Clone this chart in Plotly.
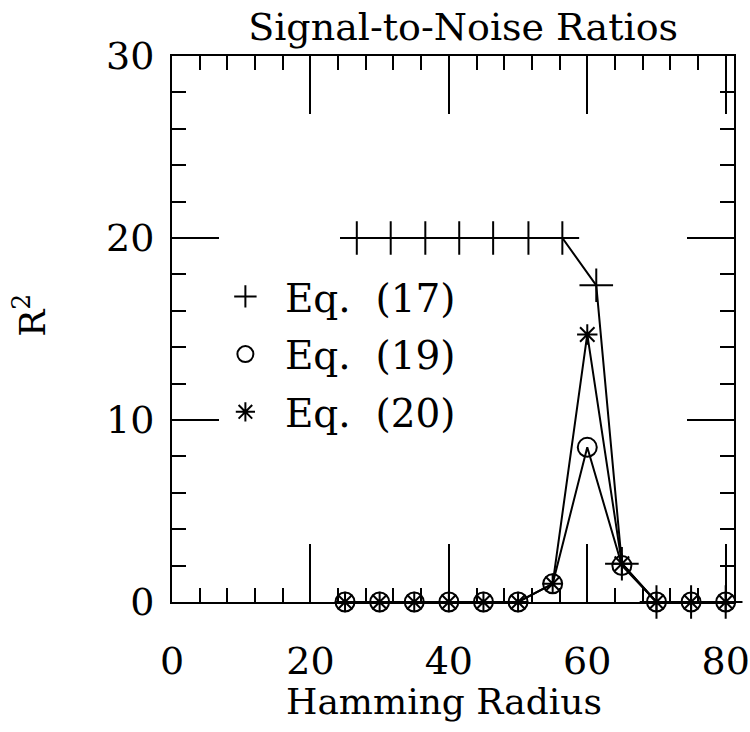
import plotly.graph_objects as go

# ---- data ----
x_eq17 = [26.7, 31.6, 36.6, 41.5, 46.4, 51.5, 56.4, 61.3, 65, 70, 75, 80]
y_eq17 = [20, 20, 20, 20, 20, 20, 20, 17.4, 2.1, 0, 0, 0]

x_eq19 = [25, 30, 35, 40, 45, 50, 55, 60, 65, 70, 75, 80]
y_eq19 = [0, 0, 0, 0, 0, 0, 1.0, 8.5, 2.0, 0, 0, 0]

x_eq20 = [25, 30, 35, 40, 45, 50, 55, 60, 65, 70, 75, 80]
y_eq20 = [0, 0, 0, 0, 0, 0, 1.0, 14.7, 2.1, 0, 0, 0]

x_ticks = [0, 20, 40, 60, 80]
x_tick_text = ["0", "20", "40", "60", "80"]
y_ticks = [0, 10, 20, 30]

FONT = "DejaVu Serif"
BLACK = "black"

fig = go.Figure()

line = dict(color=BLACK, width=2)

fig.add_trace(go.Scatter(x=x_eq17, y=y_eq17, mode="lines+markers", line=line,
                         marker=dict(symbol="cross-thin-open", size=24,
                                     line=dict(color=BLACK, width=2)),
                         showlegend=False, cliponaxis=False))
fig.add_trace(go.Scatter(x=x_eq19, y=y_eq19, mode="lines+markers", line=line,
                         marker=dict(symbol="circle-open", size=19, color=BLACK,
                                     line=dict(color=BLACK, width=2)),
                         showlegend=False, cliponaxis=False))
fig.add_trace(go.Scatter(x=x_eq20, y=y_eq20, mode="lines+markers", line=line,
                         marker=dict(symbol="asterisk-open", size=17,
                                     line=dict(color=BLACK, width=2)),
                         showlegend=False, cliponaxis=False))

# legend entries (symbols only)
leg = [("cross-thin-open", 24, "\u2002Eq.\u00a0\u00a0(17)"),
       ("circle-open", 17, "\u2002Eq.\u00a0\u00a0(19)"),
       ("asterisk-open", 20, "\u2002Eq.\u00a0\u00a0(20)")]
for i, (sym, sz, name) in enumerate(leg):
    fig.add_trace(go.Scatter(x=[None], y=[None], mode="markers", name=name,
                             legendgroup=str(i),
                             marker=dict(symbol=sym, size=sz, color=BLACK,
                                         line=dict(color=BLACK, width=2))))

axis_common = dict(showline=True, linecolor=BLACK, linewidth=2, mirror="ticks",
                   ticks="inside", tickwidth=2, tickcolor=BLACK, showgrid=False,
                   zeroline=False, automargin=False,
                   tickfont=dict(family=FONT, size=38, color=BLACK))

fig.update_xaxes(range=[0, 81.2], tickvals=x_ticks, ticktext=x_tick_text,
                 ticklen=58, ticklabeloverflow="allow",
                 minor=dict(ticks="inside", dtick=4, tick0=0, ticklen=14,
                            tickwidth=2, tickcolor=BLACK, showgrid=False),
                 ticklabelstandoff=24, **axis_common)
fig.update_yaxes(range=[0, 30], tickvals=y_ticks, ticklen=47,
                 minor=dict(ticks="inside", dtick=2, tick0=0, ticklen=14,
                            tickwidth=2, tickcolor=BLACK, showgrid=False),
                 ticklabelstandoff=8, **axis_common)

fig.update_layout(
    template="none",
    width=750, height=732,
    margin=dict(l=172, r=16, t=56, b=130, autoexpand=False),
    paper_bgcolor="white", plot_bgcolor="white",
    font=dict(family=FONT, color=BLACK),
    title=dict(text="Signal-to-Noise Ratios", x=0.518, xref="paper",
               xanchor="center", y=1 - 27 / 732, yanchor="middle",
               font=dict(family=FONT, size=38, color=BLACK)),
    legend=dict(x=0.095, y=0.618, xanchor="left", yanchor="top",
                bgcolor="rgba(0,0,0,0)", borderwidth=0,
                font=dict(family=FONT, size=39, color=BLACK),
                traceorder="grouped", tracegroupgap=4),
    annotations=[
        dict(text="Hamming Radius", xref="paper", yref="paper", x=0.484,
             y=-0.183, xanchor="center", yanchor="middle", showarrow=False,
             font=dict(family=FONT, size=36, color=BLACK)),
        dict(text="R<sup>2</sup>", xref="paper", yref="paper", x=-0.2527,
             y=0.526, xanchor="center", yanchor="middle", showarrow=False,
             textangle=-90, font=dict(family=FONT, size=36, color=BLACK)),
    ],
)

fig.write_html("out.html",
               config={"displayModeBar": False},
               post_script="document.body.style.margin='0';"
                           "document.body.style.overflow='hidden';")
